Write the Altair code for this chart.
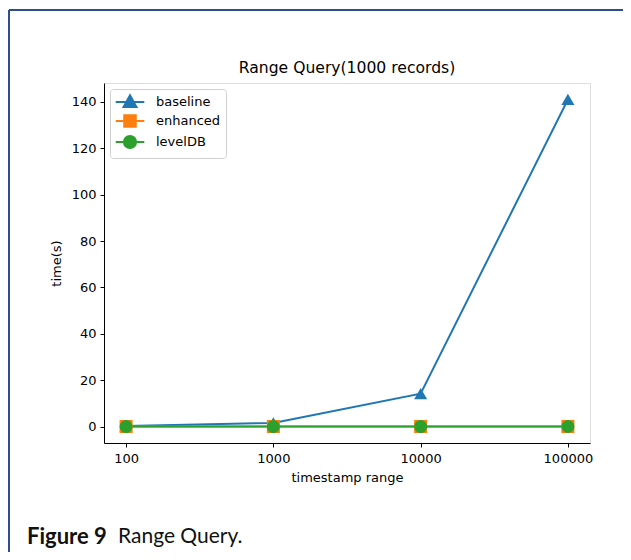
import altair as alt
import pandas as pd

ranges = [100, 1000, 10000, 100000]
baseline = [0.3, 1.6, 14.2, 141.0]
enhanced = [0.05, 0.05, 0.06, 0.08]
leveldb = [0.04, 0.04, 0.05, 0.06]
series = ["baseline", "enhanced", "levelDB"]
colors = ["#1f77b4", "#ff7f0e", "#2ca02c"]
shapes = ["triangle-up", "square", "circle"]
y_ticks = [0, 20, 40, 60, 80, 100, 120, 140]
title_text = "Range Query(1000 records)"

rows = []
for name, vals in zip(series, [baseline, enhanced, leveldb]):
    for r, v in zip(ranges, vals):
        rows.append({"range": r, "time": v, "series": name,
                     "order": series.index(name)})
df = pd.DataFrame(rows)
legdf = pd.DataFrame({"key": series, "range": [1000] * 3, "time": [50] * 3})

W, H = 486, 360
FONT = "DejaVu Sans"

xenc = alt.X("range:Q", scale=alt.Scale(type="log", domain=[10 ** 1.85, 10 ** 5.15], nice=False),
             axis=alt.Axis(values=ranges, format="d", title="timestamp range", grid=False,
                           labelFontSize=13, titleFontSize=13, labelColor="#000", titleColor="#000",
                           titleFontWeight="normal", tickColor="#000", domainColor="#000",
                           labelPadding=5, titlePadding=6, tickSize=4, labelFlush=False))
yenc = alt.Y("time:Q", scale=alt.Scale(domain=[-7.05, 148.1], nice=False, zero=False),
             axis=alt.Axis(values=y_ticks, title="time(s)", grid=False, labelFontSize=13,
                           titleFontSize=13, labelColor="#000", titleColor="#000",
                           titleFontWeight="normal", tickColor="#000", domainColor="#000",
                           labelPadding=4, titlePadding=8, tickSize=4))
cscale = alt.Scale(domain=series, range=colors)
sscale = alt.Scale(domain=series, range=shapes)

tri = "M-2.1,0H2.1M0,-1L0.95,0.72L-0.95,0.72Z"
sq = "M-2.1,0H2.1M-0.85,-0.85H0.85V0.85H-0.85Z"
circ = "M-2.1,0H2.1M-0.9,0A0.9,0.9,0,1,0,0.9,0A0.9,0.9,0,1,0,-0.9,0Z"
legend_shapes = alt.Scale(domain=series, range=[tri, sq, circ])

lines = alt.Chart(df).mark_line(strokeWidth=2, clip=True).encode(
    x=xenc, y=yenc,
    color=alt.Color("series:N", scale=cscale, legend=None),
    detail="series:N",
)
points = alt.Chart(df).mark_point(filled=True, opacity=1, size=170, clip=True).encode(
    x=xenc, y=yenc,
    color=alt.Color("series:N", scale=cscale, legend=None),
    shape=alt.Shape("series:N", scale=sscale, legend=None),
    order=alt.Order("order:Q"),
)
leg = alt.Legend(title=None, orient="top-left", offset=6,
                 labelFontSize=13, labelColor="#000", labelFont=FONT,
                 symbolSize=185, symbolStrokeWidth=2, symbolOpacity=1,
                 symbolOffset=7, labelOffset=18, rowPadding=0, padding=5,
                 strokeColor="#d0d0d0", fillColor="white", cornerRadius=3)
legend_layer = alt.Chart(legdf).mark_point(size=0, strokeWidth=2).encode(
    x=xenc, y=yenc,
    fill=alt.Fill("key:N", scale=cscale, legend=leg),
    stroke=alt.Stroke("key:N", scale=cscale, legend=leg),
    shape=alt.Shape("key:N", scale=legend_shapes, legend=leg),
)

frame_v = alt.Chart(df).mark_rule(color="#2f4f8a", strokeWidth=2).encode(
    x=alt.value(-95), y=alt.value(-73), y2=alt.value(H + 109))
frame_h = alt.Chart(df).mark_rule(color="#2f4f8a", strokeWidth=2).encode(
    x=alt.value(-95), x2=alt.value(W + 33), y=alt.value(-73))
title = alt.Chart(pd.DataFrame({"t": [title_text]})).mark_text(
    font=FONT, fontSize=15.6, align="center", baseline="middle", color="#000"
).encode(text="t:N", x=alt.value(W / 2), y=alt.value(-15))
cap1 = alt.Chart(pd.DataFrame({"t": ["Figure 9"]})).mark_text(
    font="Lato", fontSize=22, fontWeight="bold", align="left", baseline="middle", color="#111"
).encode(text="t:N", x=alt.value(-77), y=alt.value(454))
cap2 = alt.Chart(pd.DataFrame({"t": ["Range Query."]})).mark_text(
    font="Lato", fontSize=21, align="left", baseline="middle", color="#111"
).encode(text="t:N", x=alt.value(14), y=alt.value(454))

chart = alt.layer(frame_v, frame_h, title, lines, points, legend_layer, cap1, cap2).resolve_scale(
    shape="independent", fill="independent", stroke="independent"
).properties(
    width=W, height=H,
    padding={"left": 96, "top": 75, "right": 33, "bottom": 109},
    autosize=alt.AutoSizeParams(type="none"),
).configure_view(stroke="#000", strokeWidth=1).configure(font=FONT)

chart.save("out.html", embed_options={"renderer": "svg", "actions": False})
